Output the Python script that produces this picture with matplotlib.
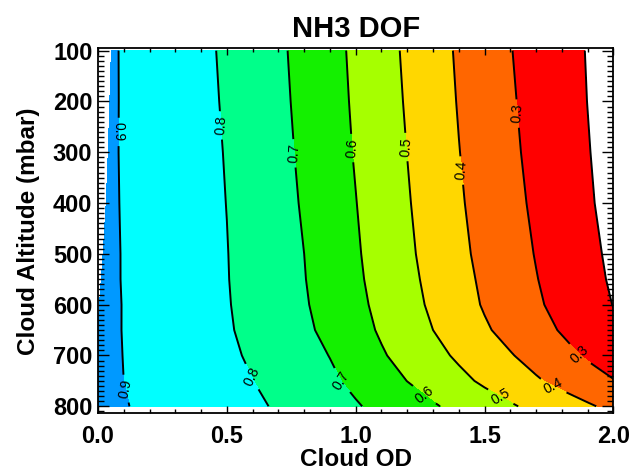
import numpy as np
import matplotlib
matplotlib.use("Agg")
import matplotlib.pyplot as plt
from matplotlib.ticker import MultipleLocator, FormatStrFormatter

# Cloud altitude rows (mbar)
cloud_alt = [100, 200, 300, 400, 500, 550, 600, 650, 700, 750, 800]
# Smallest cloud OD of the grid at each altitude (first column)
cloud_od_first = [0.052, 0.046, 0.040, 0.032, 0.020, 0.013, 0.006, 0.0, 0.0, 0.0, 0.0]
# Remaining cloud OD columns
cloud_od = [0.1, 0.2, 0.3, 0.4, 0.5, 0.6, 0.7, 0.8, 0.9, 1.0,
            1.1, 1.2, 1.3, 1.4, 1.5, 1.6, 1.7, 1.8, 1.9, 2.0]

# NH3 DOF (rows: altitude, columns: first OD then cloud_od)
dof_100 = [0.907, 0.895, 0.869, 0.843, 0.817, 0.788, 0.751, 0.715, 0.673, 0.629, 0.583, 0.534, 0.486, 0.437, 0.389, 0.346, 0.303, 0.267, 0.232, 0.196, 0.161]
dof_200 = [0.909, 0.895, 0.870, 0.845, 0.819, 0.792, 0.756, 0.719, 0.679, 0.634, 0.588, 0.540, 0.492, 0.443, 0.395, 0.352, 0.309, 0.272, 0.236, 0.199, 0.163]
dof_300 = [0.910, 0.895, 0.871, 0.846, 0.822, 0.796, 0.760, 0.724, 0.685, 0.640, 0.594, 0.547, 0.499, 0.450, 0.402, 0.359, 0.316, 0.277, 0.240, 0.204, 0.167]
dof_400 = [0.912, 0.896, 0.872, 0.848, 0.824, 0.799, 0.764, 0.729, 0.692, 0.647, 0.602, 0.555, 0.507, 0.458, 0.410, 0.367, 0.325, 0.285, 0.248, 0.210, 0.173]
dof_500 = [0.916, 0.897, 0.873, 0.849, 0.825, 0.802, 0.768, 0.734, 0.700, 0.655, 0.610, 0.563, 0.516, 0.468, 0.420, 0.377, 0.336, 0.296, 0.258, 0.221, 0.183]
dof_550 = [0.918, 0.897, 0.874, 0.850, 0.826, 0.803, 0.770, 0.737, 0.703, 0.660, 0.615, 0.569, 0.523, 0.476, 0.429, 0.384, 0.343, 0.303, 0.265, 0.227, 0.189]
dof_600 = [0.920, 0.898, 0.874, 0.851, 0.828, 0.805, 0.774, 0.741, 0.708, 0.667, 0.623, 0.577, 0.531, 0.485, 0.438, 0.392, 0.352, 0.312, 0.274, 0.236, 0.198]
dof_650 = [0.921, 0.898, 0.876, 0.853, 0.831, 0.808, 0.780, 0.748, 0.716, 0.678, 0.634, 0.589, 0.545, 0.500, 0.456, 0.411, 0.371, 0.332, 0.293, 0.254, 0.215]
dof_700 = [0.920, 0.899, 0.878, 0.856, 0.835, 0.814, 0.790, 0.759, 0.729, 0.698, 0.654, 0.609, 0.568, 0.527, 0.486, 0.446, 0.406, 0.367, 0.328, 0.289, 0.251]
dof_750 = [0.920, 0.900, 0.881, 0.861, 0.841, 0.821, 0.801, 0.773, 0.744, 0.715, 0.680, 0.640, 0.599, 0.561, 0.523, 0.485, 0.448, 0.410, 0.374, 0.339, 0.304]
dof_800 = [0.922, 0.904, 0.886, 0.867, 0.849, 0.831, 0.813, 0.792, 0.764, 0.736, 0.708, 0.676, 0.643, 0.609, 0.576, 0.543, 0.510, 0.477, 0.444, 0.411, 0.378]

fill_levels = [0.2, 0.3, 0.4, 0.5, 0.6, 0.7, 0.8, 0.9, 2.0]
line_levels = [0.3, 0.4, 0.5, 0.6, 0.7, 0.8, 0.9]
edge_level = [0.2]
fill_colors = ['#FF0000', '#FF6600', '#FFD700', '#A6FF00', '#14F000', '#00FF8A', '#00FFFF', '#0099FF']

Z = np.array([dof_100, dof_200, dof_300, dof_400, dof_500, dof_550,
              dof_600, dof_650, dof_700, dof_750, dof_800])
X = np.array([[first] + cloud_od for first in cloud_od_first])
Y = np.repeat(np.array(cloud_alt, dtype=float)[:, None], X.shape[1], axis=1)

plt.rcParams['font.family'] = ['Liberation Sans', 'DejaVu Sans']
fig = plt.figure(figsize=(6.32, 4.73), dpi=100)
ax = fig.add_axes([0.155, 0.126, 0.8157, 0.772])

ax.contourf(X, Y, Z, levels=fill_levels, colors=fill_colors)
ax.contour(X, Y, Z, levels=edge_level, colors='black', linewidths=1.4)
cs = ax.contour(X, Y, Z, levels=line_levels, colors='black', linewidths=1.4)
label_spots = [(0.08, 260), (0.48, 247), (0.765, 302), (0.98, 292), (1.19, 290), (1.41, 336), (1.625, 224),
               (0.11, 765), (0.61, 739), (0.93, 755), (1.27, 775), (1.57, 775), (1.78, 748), (1.85, 706)]
ax.clabel(cs, manual=label_spots, inline=True, fontsize=10, fmt='%.1f')

ax.set_xlim(0, 2.0)
ax.set_ylim(814, 95.3)
ax.xaxis.set_major_locator(MultipleLocator(0.5))
ax.xaxis.set_minor_locator(MultipleLocator(0.1))
ax.yaxis.set_major_locator(MultipleLocator(100))
ax.yaxis.set_minor_locator(MultipleLocator(10))
ax.xaxis.set_major_formatter(FormatStrFormatter('%.1f'))
ax.tick_params(which='both', direction='in', top=True, right=True, width=1.0)
ax.tick_params(axis='x', which='major', length=5, pad=8, labelsize=17)
ax.tick_params(axis='x', which='minor', length=3)
ax.tick_params(axis='y', which='major', length=8, pad=4, labelsize=17)
ax.tick_params(axis='y', which='minor', length=4)
for lab in ax.get_xticklabels() + ax.get_yticklabels():
    lab.set_fontweight('bold')
for s in ax.spines.values():
    s.set_linewidth(1.3)

ax.set_xlabel('Cloud OD', fontsize=17.5, fontweight='bold', labelpad=0)
ax.set_ylabel('Cloud Altitude (mbar)', fontsize=17.5, fontweight='bold', labelpad=9)
ax.set_title('NH3 DOF', fontsize=21, fontweight='bold', pad=8)

fig.savefig('out.png', dpi=100)
